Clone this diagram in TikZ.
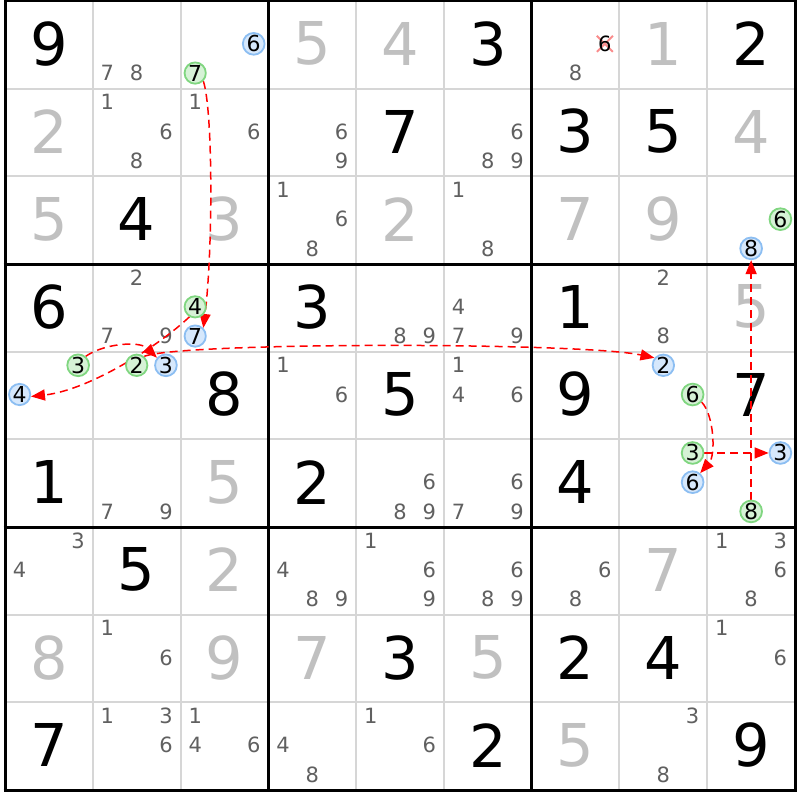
\documentclass[tikz,border=0pt]{standalone}
\usepackage{fontspec}
\setmainfont{DejaVu Sans}
\usetikzlibrary{arrows.meta,shapes.misc}
\definecolor{solvedcol}{RGB}{192,192,192}
\definecolor{candcol}{RGB}{96,96,96}
\definecolor{thincol}{RGB}{214,214,214}
\definecolor{gfill}{RGB}{214,242,214}
\definecolor{gline}{RGB}{128,214,128}
\definecolor{bfill}{RGB}{214,232,252}
\definecolor{bline}{RGB}{140,190,242}
\definecolor{chainred}{RGB}{255,0,0}
\definecolor{xcol}{RGB}{250,140,140}
\pgfdeclarelayer{bglayer}
\pgfdeclarelayer{chainlayer}
\pgfsetlayers{bglayer,chainlayer,main}
\newcommand\sdkcand[5]{\node[#1] (#2) at ({5+(#4-1)*87.78+(mod(#5-1,3)+0.5)*29.26},{(#3-1)*87.67+(floor((#5-1)/3)+0.5)*29.22}) {#5};}
\newcommand\sdkbig[5]{\node[#1] (#2) at ({5+(#4-0.5)*87.78},{(#3-0.5)*87.67}) {#5};}
\tikzset{
  given/.style={text=black,font=\fontsize{59}{59}\selectfont,inner sep=0pt},
  solved/.style={given,text=solvedcol},
  cand/.style={text=candcol,font=\fontsize{21}{21}\selectfont,inner sep=0pt},
  gcand/.style={cand,text=black,font=\fontsize{22}{22}\selectfont,circle,draw=gline,fill=gfill,line width=1.8pt,minimum size=21pt},
  bcand/.style={gcand,draw=bline,fill=bfill},
  chain/.style={draw=chainred,line width=1.5pt,dash pattern=on 8pt off 5pt,-{Triangle[length=14pt,width=11pt,fill=chainred]}},
  thinline/.style={draw=thincol,line width=2pt},
  thickline/.style={draw=black,line width=3pt},
  xmark/.style={cross out,draw=xcol,line width=2pt,minimum size=14pt,inner sep=0pt}
}
\begin{document}
\begin{tikzpicture}[x=1pt,y=-1pt]
\useasboundingbox (0,0) rectangle (800,800);
\begin{pgfonlayer}{bglayer}
\fill[white] (0,0) rectangle (800,800);
\foreach \i in {1,2,4,5,7,8} {
  \draw[thinline] ({5+\i*87.78},1) -- ({5+\i*87.78},790);
  \draw[thinline] (5,{1+\i*87.67}) -- (795,{1+\i*87.67});
}
\foreach \i in {0,3,6,9} {
  \draw[thickline] ({5+\i*87.78},{1-1.5}) -- ({5+\i*87.78},{790+1.5});
  \draw[thickline] ({5-1.5},{1+\i*87.67}) -- ({795+1.5},{1+\i*87.67});
}
% given digits
\foreach \r/\c/\d in {1/1/9,1/6/3,1/9/2,2/5/7,2/7/3,2/8/5,3/2/4,4/1/6,4/4/3,4/7/1,5/3/8,5/5/5,5/7/9,5/9/7,6/1/1,6/4/2,6/7/4,7/2/5,8/5/3,8/7/2,8/8/4,9/1/7,9/6/2,9/9/9}
  {\sdkbig{given}{d-\r-\c}{\r}{\c}{\d}}
% solved digits
\foreach \r/\c/\d in {1/4/5,1/5/4,1/8/1,2/1/2,2/9/4,3/1/5,3/3/3,3/5/2,3/7/7,3/8/9,4/9/5,6/3/5,7/3/2,7/8/7,8/1/8,8/3/9,8/4/7,8/6/5,9/7/5}
  {\sdkbig{solved}{d-\r-\c}{\r}{\c}{\d}}
% eliminated candidate
\node[xmark] (x-1-7) at ({5+6*87.78+2.5*29.26},{1.5*29.22}) {};
\sdkcand{cand,text=black}{k-1-7-6}{1}{7}{6}
% plain candidates
\foreach \r/\c/\l in {1/2/{7,8},1/7/{8},2/2/{1,6,8},2/3/{1,6},2/4/{6,9},2/6/{6,8,9},3/4/{1,6,8},3/6/{1,8},4/2/{2,7,9},4/5/{8,9},4/6/{4,7,9},4/8/{2,8},5/4/{1,6},5/6/{1,4,6},6/2/{7,9},6/5/{6,8,9},6/6/{6,7,9},7/1/{3,4},7/4/{4,8,9},7/5/{1,6,9},7/6/{6,8,9},7/7/{6,8},7/9/{1,3,6,8},8/2/{1,6},8/9/{1,6},9/2/{1,3,6},9/3/{1,4,6},9/4/{4,8},9/5/{1,6},9/8/{3,8}}
  {\foreach \d in \l {\sdkcand{cand}{k-\r-\c-\d}{\r}{\c}{\d}}}
\end{pgfonlayer}
% coloured candidates
\sdkcand{gcand}{ga}{1}{3}{7}
\sdkcand{bcand}{bb}{1}{3}{6}
\sdkcand{bcand}{bc}{4}{3}{7}
\sdkcand{gcand}{gd}{4}{3}{4}
\sdkcand{bcand}{be}{5}{1}{4}
\sdkcand{gcand}{gf}{5}{1}{3}
\sdkcand{bcand}{bg}{5}{2}{3}
\sdkcand{gcand}{gh}{5}{2}{2}
\sdkcand{bcand}{bi}{5}{8}{2}
\sdkcand{gcand}{gj}{5}{8}{6}
\sdkcand{bcand}{bk}{6}{8}{6}
\sdkcand{gcand}{gl}{6}{8}{3}
\sdkcand{bcand}{bm}{6}{9}{3}
\sdkcand{gcand}{gn}{6}{9}{8}
\sdkcand{bcand}{bo}{3}{9}{8}
\sdkcand{gcand}{gp}{3}{9}{6}
\begin{pgfonlayer}{chainlayer}
\draw[chain] (ga.-45) .. controls (213,110) and (213,250) .. (bc.45);
\draw[chain] (gd.-120) .. controls (160,345) and (90,390) .. (be.-10);
\draw[chain] (gf.50) .. controls (105,343) and (140,341) .. (bg.140);
\draw[chain] (gh.50) .. controls (180,342) and (580,342) .. (bi.140);
\draw[chain] (gj.-40) .. controls (714,415) and (716,455) .. (bk.50);
\draw[chain] (gl) -- (bm);
\draw[chain] (gn) -- (bo);
\end{pgfonlayer}
\end{tikzpicture}
\end{document}
